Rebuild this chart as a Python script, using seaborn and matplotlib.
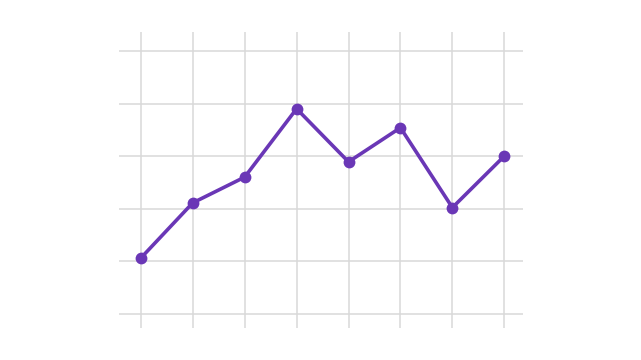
import matplotlib
matplotlib.use("Agg")
import matplotlib.pyplot as plt
import seaborn as sns
import pandas as pd

x_positions = [0, 1, 2, 3, 4, 5, 6, 7]
values = [1.06, 2.11, 2.6, 3.9, 2.89, 3.54, 2.02, 3.0]
y_ticks = [0, 1, 2, 3, 4, 5]

df = pd.DataFrame({"x": x_positions, "y": values})

sns.set_theme(style="white")
fig = plt.figure(figsize=(6.41, 3.6), dpi=100)
ax = fig.add_axes([119 / 641, 32 / 360, 404 / 641, 296 / 360])

sns.lineplot(data=df, x="x", y="y", ax=ax, color="#6a37b6", linewidth=2.6,
             marker="o", markersize=8.5, markeredgewidth=0, zorder=3)

ax.set_xlim(-0.42, 7.36)
ax.set_ylim(-0.27, 5.36)
ax.set_xticks(x_positions)
ax.set_yticks(y_ticks)
ax.grid(True, color="#d9d9d9", linewidth=1.1)
ax.tick_params(length=0, labelbottom=False, labelleft=False)
ax.set_xlabel("")
ax.set_ylabel("")
for s in ax.spines.values():
    s.set_visible(False)

fig.savefig("out.png", dpi=100, facecolor="white")
